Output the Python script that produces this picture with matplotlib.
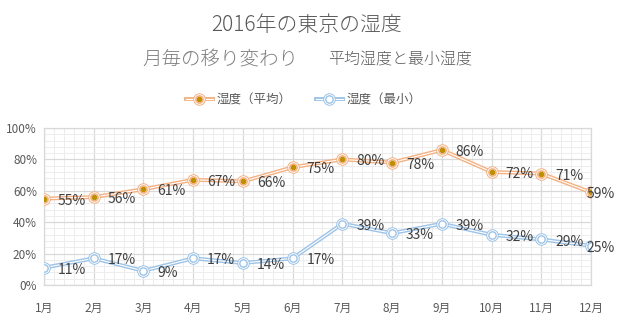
import matplotlib
matplotlib.use('Agg')
import matplotlib.pyplot as plt
from matplotlib.ticker import MultipleLocator, PercentFormatter
from matplotlib.legend_handler import HandlerTuple

plt.rcParams['font.family'] = ['Noto Sans CJK JP', 'DejaVu Sans']

# 月ごとの湿度 (%)
months = ['1月', '2月', '3月', '4月', '5月', '6月', '7月', '8月', '9月', '10月', '11月', '12月']
avg_humidity = [55, 56, 61, 67, 66, 75, 80, 78, 86, 72, 71, 59]
min_humidity = [11, 17, 9, 17, 14, 17, 39, 33, 39, 32, 29, 25]

orange = '#F4B183'
orange_dark = '#BF8F00'
blue = '#9DC3E6'
gray = '#595959'

fig = plt.figure(figsize=(6.2, 3.25), dpi=100)
ax = fig.add_axes([44 / 620, 1 - 285 / 325, (591 - 44) / 620, (285 - 128) / 325])

x = list(range(len(months)))


def double_line(xs, ys, color, center):
    # 二重線: 色線の上に細い白線、マーカーは二重丸
    parts = [
        ax.plot(xs, ys, color=color, lw=2.8, zorder=3)[0],
        ax.plot(xs, ys, color='white', lw=0.8, zorder=4)[0],
        ax.plot(xs, ys, ls='none', marker='o', ms=8, mfc=color, mec=color, zorder=5)[0],
        ax.plot(xs, ys, ls='none', marker='o', ms=6.6, mfc='white', mec='white', zorder=6)[0],
        ax.plot(xs, ys, ls='none', marker='o', ms=5.2, mfc='white', mec=color, mew=1.1, zorder=7)[0],
        ax.plot(xs, ys, ls='none', marker='o', ms=3, mfc=center, mec=center, zorder=8)[0],
    ]
    return tuple(parts)


avg_handle = double_line(x, avg_humidity, orange, orange_dark)
min_handle = double_line(x, min_humidity, blue, 'white')

# データラベル (最後の点は枠内に収める)
for series in (avg_humidity, min_humidity):
    for xi, v in zip(x, series):
        dx = 10 if xi < len(x) - 1 else -3.5
        ax.annotate(f'{v}%', (xi, v), xytext=(dx, -1.5), textcoords='offset points',
                    ha='left', va='center', fontsize=10, color='#404040', zorder=10)

ax.set_xlim(0, 11)
ax.set_ylim(0, 100)
ax.set_xticks(x)
ax.set_xticklabels(months)
ax.xaxis.set_minor_locator(MultipleLocator(0.2))
ax.yaxis.set_major_locator(MultipleLocator(20))
ax.yaxis.set_minor_locator(MultipleLocator(4))
ax.yaxis.set_major_formatter(PercentFormatter(decimals=0))

ax.grid(which='major', color='#D9D9D9', lw=0.9, zorder=0)
ax.grid(which='minor', color='#EDEDED', lw=0.7, zorder=0)
ax.set_axisbelow(True)
for s in ax.spines.values():
    s.set_color('#D9D9D9')
    s.set_linewidth(0.9)
ax.tick_params(which='both', length=0, colors=gray, labelsize=8.5)
ax.tick_params(axis='x', pad=12)
ax.tick_params(axis='y', pad=5)

# タイトル
fig.text(0.494, 1 - 25 / 325, '2016年の東京の湿度', ha='center', va='center', fontsize=15,
         color=gray, fontweight='light')
fig.text(0.355, 1 - 60 / 325, '月毎の移り変わり', ha='center', va='center', fontsize=14,
         color='#7F7F7F', fontweight='light')
fig.text(0.645, 1 - 60 / 325, '平均湿度と最小湿度', ha='center', va='center', fontsize=11.5,
         color=gray, fontweight='light')

# 凡例 (線とマーカーを重ねて表示)
fig.legend([avg_handle, min_handle], ['湿度（平均）', '湿度（最小）'], loc='center',
           bbox_to_anchor=(0.49, 1 - 100 / 325), handler_map={tuple: HandlerTuple(ndivide=1)},
           ncol=2, frameon=False, fontsize=9, labelcolor=gray, handlelength=2.1, columnspacing=2.0,
           handletextpad=0.3)

fig.savefig('out.png', dpi=100)
